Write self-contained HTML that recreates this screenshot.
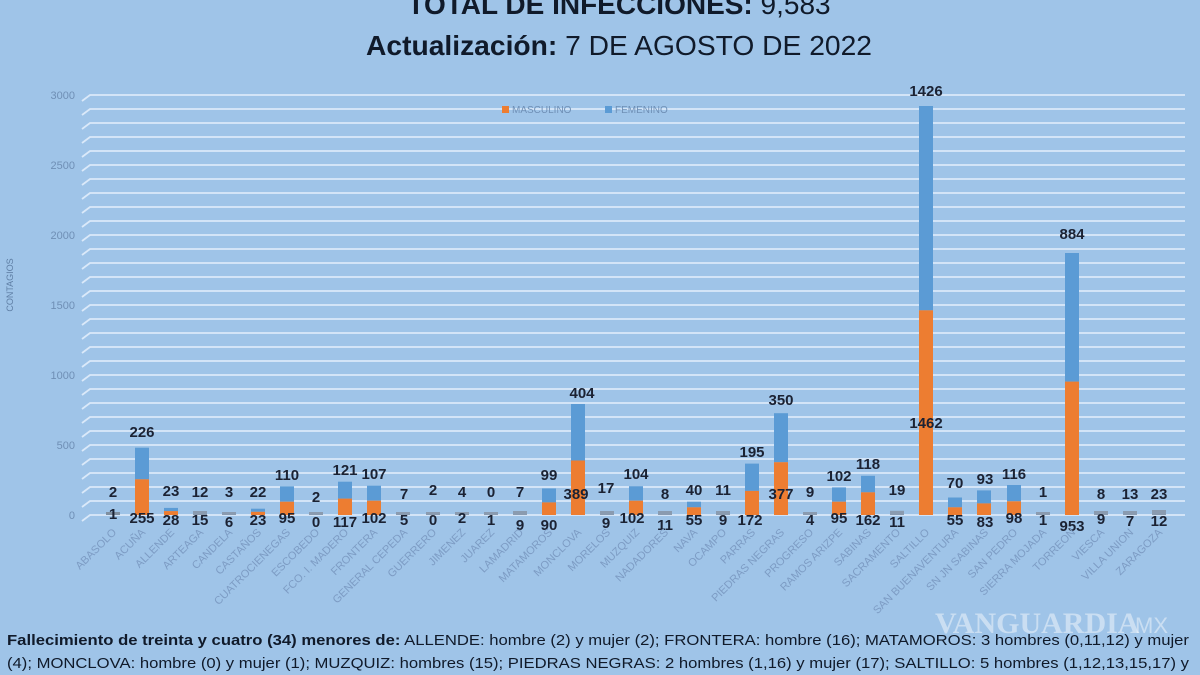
<!DOCTYPE html>
<html><head><meta charset="utf-8"><style>
html,body{margin:0;padding:0;background:#9fc4e8;}
svg{display:block}
.v{font:bold 15px "Liberation Sans",sans-serif;fill:#1b2233;text-anchor:middle}
.x{font:11px "Liberation Sans",sans-serif;fill:#7d9cc4;text-anchor:end}
.y{font:11px "Liberation Sans",sans-serif;fill:#6f8fb5;text-anchor:end}
</style></head><body>
<svg width="1200" height="675" xmlns="http://www.w3.org/2000/svg">
<rect width="1200" height="675" fill="#9fc4e8"/>
<text x="619" y="14" text-anchor="middle" style="font:28px 'Liberation Sans',sans-serif;fill:#101a2a"><tspan font-weight="bold">TOTAL DE INFECCIONES:</tspan> 9,583</text>
<text x="619" y="55" text-anchor="middle" textLength="506" lengthAdjust="spacingAndGlyphs" style="font:28px 'Liberation Sans',sans-serif;fill:#101a2a"><tspan font-weight="bold">Actualización:</tspan> 7 DE AGOSTO DE 2022</text>
<g stroke="#eaf3fc" stroke-width="1.8" fill="none" opacity="0.8">
<path d="M82 101L90 95H1185M82 115L90 109H1185M82 129L90 123H1185M82 143L90 137H1185M82 157L90 151H1185M82 171L90 165H1185M82 185L90 179H1185M82 199L90 193H1185M82 213L90 207H1185M82 227L90 221H1185M82 241L90 235H1185M82 255L90 249H1185M82 269L90 263H1185M82 283L90 277H1185M82 297L90 291H1185M82 311L90 305H1185M82 325L90 319H1185M82 339L90 333H1185M82 353L90 347H1185M82 367L90 361H1185M82 381L90 375H1185M82 395L90 389H1185M82 409L90 403H1185M82 423L90 417H1185M82 437L90 431H1185M82 451L90 445H1185M82 465L90 459H1185M82 479L90 473H1185M82 493L90 487H1185M82 507L90 501H1185M82 521L90 515H1185"/>
</g>
<text class="y" x="75" y="99">3000</text><text class="y" x="75" y="169">2500</text><text class="y" x="75" y="239">2000</text><text class="y" x="75" y="309">1500</text><text class="y" x="75" y="379">1000</text><text class="y" x="75" y="449">500</text><text class="y" x="75" y="519">0</text>
<text transform="translate(13,285) rotate(-90)" text-anchor="middle" style="font:9px 'Liberation Sans',sans-serif;fill:#5f7fa5">CONTAGIOS</text>
<rect x="502" y="106" width="7" height="7" fill="#ed7d31"/><text x="512" y="113" style="font:10px 'Liberation Sans',sans-serif;fill:#6f8fb5">MASCULINO</text>
<rect x="605" y="106" width="7" height="7" fill="#5b9bd5"/><text x="615" y="113" style="font:10px 'Liberation Sans',sans-serif;fill:#6f8fb5">FEMENINO</text>
<g>
<rect x="106" y="512" width="14" height="3" fill="#7f8fa0"/>
<rect x="135" y="447.7" width="14" height="31.6" fill="#5b9bd5"/><rect x="135" y="479.3" width="14" height="35.7" fill="#ed7d31"/>
<rect x="164" y="507.9" width="14" height="3.2" fill="#5b9bd5"/><rect x="164" y="511.1" width="14" height="3.9" fill="#ed7d31"/>
<rect x="193" y="511" width="14" height="4" fill="#8a9bb0"/>
<rect x="222" y="512" width="14" height="3" fill="#8a9bb0"/>
<rect x="251" y="508.7" width="14" height="3.1" fill="#5b9bd5"/><rect x="251" y="511.8" width="14" height="3.2" fill="#ed7d31"/>
<rect x="280" y="486.3" width="14" height="15.4" fill="#5b9bd5"/><rect x="280" y="501.7" width="14" height="13.3" fill="#ed7d31"/>
<rect x="309" y="512" width="14" height="3" fill="#8a9bb0"/>
<rect x="338" y="481.7" width="14" height="16.9" fill="#5b9bd5"/><rect x="338" y="498.6" width="14" height="16.4" fill="#ed7d31"/>
<rect x="367" y="485.7" width="14" height="15" fill="#5b9bd5"/><rect x="367" y="500.7" width="14" height="14.3" fill="#ed7d31"/>
<rect x="396" y="512" width="14" height="3" fill="#8a9bb0"/>
<rect x="426" y="512" width="14" height="3" fill="#8a9bb0"/>
<rect x="455" y="512" width="14" height="3" fill="#8a9bb0"/>
<rect x="484" y="512" width="14" height="3" fill="#8a9bb0"/>
<rect x="513" y="511" width="14" height="4" fill="#8a9bb0"/>
<rect x="542" y="488.5" width="14" height="13.9" fill="#5b9bd5"/><rect x="542" y="502.4" width="14" height="12.6" fill="#ed7d31"/>
<rect x="571" y="404" width="14" height="56.5" fill="#5b9bd5"/><rect x="571" y="460.5" width="14" height="54.5" fill="#ed7d31"/>
<rect x="600" y="511" width="14" height="4" fill="#8a9bb0"/>
<rect x="629" y="486.2" width="14" height="14.5" fill="#5b9bd5"/><rect x="629" y="500.7" width="14" height="14.3" fill="#ed7d31"/>
<rect x="658" y="511" width="14" height="4" fill="#8a9bb0"/>
<rect x="687" y="501.7" width="14" height="5.6" fill="#5b9bd5"/><rect x="687" y="507.3" width="14" height="7.7" fill="#ed7d31"/>
<rect x="716" y="511" width="14" height="4" fill="#8a9bb0"/>
<rect x="745" y="463.6" width="14" height="27.3" fill="#5b9bd5"/><rect x="745" y="490.9" width="14" height="24.1" fill="#ed7d31"/>
<rect x="774" y="413.2" width="14" height="49" fill="#5b9bd5"/><rect x="774" y="462.2" width="14" height="52.8" fill="#ed7d31"/>
<rect x="803" y="512" width="14" height="3" fill="#8a9bb0"/>
<rect x="832" y="487.4" width="14" height="14.3" fill="#5b9bd5"/><rect x="832" y="501.7" width="14" height="13.3" fill="#ed7d31"/>
<rect x="861" y="475.8" width="14" height="16.5" fill="#5b9bd5"/><rect x="861" y="492.3" width="14" height="22.7" fill="#ed7d31"/>
<rect x="890" y="510.8" width="14" height="4.2" fill="#8a9bb0"/>
<rect x="919" y="106" width="14" height="204.3" fill="#5b9bd5"/><rect x="919" y="310.3" width="14" height="204.7" fill="#ed7d31"/>
<rect x="948" y="497.5" width="14" height="9.8" fill="#5b9bd5"/><rect x="948" y="507.3" width="14" height="7.7" fill="#ed7d31"/>
<rect x="977" y="490.4" width="14" height="13" fill="#5b9bd5"/><rect x="977" y="503.4" width="14" height="11.6" fill="#ed7d31"/>
<rect x="1007" y="485" width="14" height="16.3" fill="#5b9bd5"/><rect x="1007" y="501.3" width="14" height="13.7" fill="#ed7d31"/>
<rect x="1036" y="512" width="14" height="3" fill="#8a9bb0"/>
<rect x="1065" y="253" width="14" height="128.6" fill="#5b9bd5"/><rect x="1065" y="381.6" width="14" height="133.4" fill="#ed7d31"/>
<rect x="1094" y="511" width="14" height="4" fill="#8a9bb0"/>
<rect x="1123" y="511" width="14" height="4" fill="#8a9bb0"/>
<rect x="1152" y="510" width="14" height="5" fill="#8a9bb0"/>
</g>
<g class="v">
<text class="v" x="113" y="497">2</text><text class="v" x="113" y="519">1</text>
<text class="v" x="142" y="437">226</text><text class="v" x="142" y="523">255</text>
<text class="v" x="171" y="496">23</text><text class="v" x="171" y="525">28</text>
<text class="v" x="200" y="497">12</text><text class="v" x="200" y="525">15</text>
<text class="v" x="229" y="497">3</text><text class="v" x="229" y="527">6</text>
<text class="v" x="258" y="497">22</text><text class="v" x="258" y="525">23</text>
<text class="v" x="287" y="480">110</text><text class="v" x="287" y="523">95</text>
<text class="v" x="316" y="502">2</text><text class="v" x="316" y="527">0</text>
<text class="v" x="345" y="475">121</text><text class="v" x="345" y="527">117</text>
<text class="v" x="374" y="479">107</text><text class="v" x="374" y="523">102</text>
<text class="v" x="404" y="499">7</text><text class="v" x="404" y="525">5</text>
<text class="v" x="433" y="495">2</text><text class="v" x="433" y="525">0</text>
<text class="v" x="462" y="497">4</text><text class="v" x="462" y="523">2</text>
<text class="v" x="491" y="497">0</text><text class="v" x="491" y="525">1</text>
<text class="v" x="520" y="497">7</text><text class="v" x="520" y="530">9</text>
<text class="v" x="549" y="480">99</text><text class="v" x="549" y="530">90</text>
<text class="v" x="582" y="398">404</text><text class="v" x="576" y="499">389</text>
<text class="v" x="606" y="493">17</text><text class="v" x="606" y="528">9</text>
<text class="v" x="636" y="479">104</text><text class="v" x="632" y="523">102</text>
<text class="v" x="665" y="499">8</text><text class="v" x="665" y="530">11</text>
<text class="v" x="694" y="495">40</text><text class="v" x="694" y="525">55</text>
<text class="v" x="723" y="495">11</text><text class="v" x="723" y="525">9</text>
<text class="v" x="752" y="457">195</text><text class="v" x="750" y="525">172</text>
<text class="v" x="781" y="405">350</text><text class="v" x="781" y="499">377</text>
<text class="v" x="810" y="497">9</text><text class="v" x="810" y="525">4</text>
<text class="v" x="839" y="481">102</text><text class="v" x="839" y="523">95</text>
<text class="v" x="868" y="469">118</text><text class="v" x="868" y="525">162</text>
<text class="v" x="897" y="495">19</text><text class="v" x="897" y="527">11</text>
<text class="v" x="926" y="96">1426</text><text class="v" x="926" y="428">1462</text>
<text class="v" x="955" y="488">70</text><text class="v" x="955" y="525">55</text>
<text class="v" x="985" y="484">93</text><text class="v" x="985" y="527">83</text>
<text class="v" x="1014" y="479">116</text><text class="v" x="1014" y="523">98</text>
<text class="v" x="1043" y="497">1</text><text class="v" x="1043" y="525">1</text>
<text class="v" x="1072" y="239">884</text><text class="v" x="1072" y="531">953</text>
<text class="v" x="1101" y="499">8</text><text class="v" x="1101" y="524">9</text>
<text class="v" x="1130" y="499">13</text><text class="v" x="1130" y="526">7</text>
<text class="v" x="1159" y="499">23</text><text class="v" x="1159" y="526">12</text>
</g>
<g class="x">
<text class="x" transform="translate(117,533) rotate(-45)">ABASOLO</text>
<text class="x" transform="translate(146,533) rotate(-45)">ACUÑA</text>
<text class="x" transform="translate(175,533) rotate(-45)">ALLENDE</text>
<text class="x" transform="translate(204,533) rotate(-45)">ARTEAGA</text>
<text class="x" transform="translate(233,533) rotate(-45)">CANDELA</text>
<text class="x" transform="translate(262,533) rotate(-45)">CASTAÑOS</text>
<text class="x" transform="translate(291,533) rotate(-45)">CUATROCIENEGAS</text>
<text class="x" transform="translate(320,533) rotate(-45)">ESCOBEDO</text>
<text class="x" transform="translate(349,533) rotate(-45)">FCO. I. MADERO</text>
<text class="x" transform="translate(378,533) rotate(-45)">FRONTERA</text>
<text class="x" transform="translate(408,533) rotate(-45)">GENERAL CEPEDA</text>
<text class="x" transform="translate(437,533) rotate(-45)">GUERRERO</text>
<text class="x" transform="translate(466,533) rotate(-45)">JIMENEZ</text>
<text class="x" transform="translate(495,533) rotate(-45)">JUAREZ</text>
<text class="x" transform="translate(524,533) rotate(-45)">LAMADRID</text>
<text class="x" transform="translate(553,533) rotate(-45)">MATAMOROS</text>
<text class="x" transform="translate(582,533) rotate(-45)">MONCLOVA</text>
<text class="x" transform="translate(611,533) rotate(-45)">MORELOS</text>
<text class="x" transform="translate(640,533) rotate(-45)">MUZQUIZ</text>
<text class="x" transform="translate(669,533) rotate(-45)">NADADORES</text>
<text class="x" transform="translate(698,533) rotate(-45)">NAVA</text>
<text class="x" transform="translate(727,533) rotate(-45)">OCAMPO</text>
<text class="x" transform="translate(756,533) rotate(-45)">PARRAS</text>
<text class="x" transform="translate(785,533) rotate(-45)">PIEDRAS NEGRAS</text>
<text class="x" transform="translate(814,533) rotate(-45)">PROGRESO</text>
<text class="x" transform="translate(843,533) rotate(-45)">RAMOS ARIZPE</text>
<text class="x" transform="translate(872,533) rotate(-45)">SABINAS</text>
<text class="x" transform="translate(901,533) rotate(-45)">SACRAMENTO</text>
<text class="x" transform="translate(930,533) rotate(-45)">SALTILLO</text>
<text class="x" transform="translate(959,533) rotate(-45)">SAN BUENAVENTURA</text>
<text class="x" transform="translate(989,533) rotate(-45)">SN JN SABINAS</text>
<text class="x" transform="translate(1018,533) rotate(-45)">SAN PEDRO</text>
<text class="x" transform="translate(1047,533) rotate(-45)">SIERRA MOJADA</text>
<text class="x" transform="translate(1076,533) rotate(-45)">TORREON</text>
<text class="x" transform="translate(1105,533) rotate(-45)">VIESCA</text>
<text class="x" transform="translate(1134,533) rotate(-45)">VILLA UNION</text>
<text class="x" transform="translate(1163,533) rotate(-45)">ZARAGOZA</text>
</g>
<text x="935" y="633" style="font:bold 30px 'Liberation Serif',serif;fill:#ffffff;opacity:0.45">VANGUARDIA</text>
<text x="1135" y="633" style="font:22px 'Liberation Sans',sans-serif;fill:#ffffff;opacity:0.45">MX</text>
<text x="7" y="645" textLength="1182" lengthAdjust="spacingAndGlyphs" style="font:15px 'Liberation Sans',sans-serif;fill:#101a2a"><tspan font-weight="bold">Fallecimiento de treinta y cuatro (34) menores de:</tspan> ALLENDE: hombre (2) y mujer (2); FRONTERA: hombre (16); MATAMOROS: 3 hombres (0,11,12) y mujer</text>
<text x="7" y="668" textLength="1182" lengthAdjust="spacingAndGlyphs" style="font:15px 'Liberation Sans',sans-serif;fill:#101a2a">(4); MONCLOVA:  hombre (0) y mujer (1); MUZQUIZ: hombres (15); PIEDRAS NEGRAS:  2 hombres (1,16) y mujer (17); SALTILLO: 5 hombres (1,12,13,15,17) y</text>
</svg>
</body></html>
